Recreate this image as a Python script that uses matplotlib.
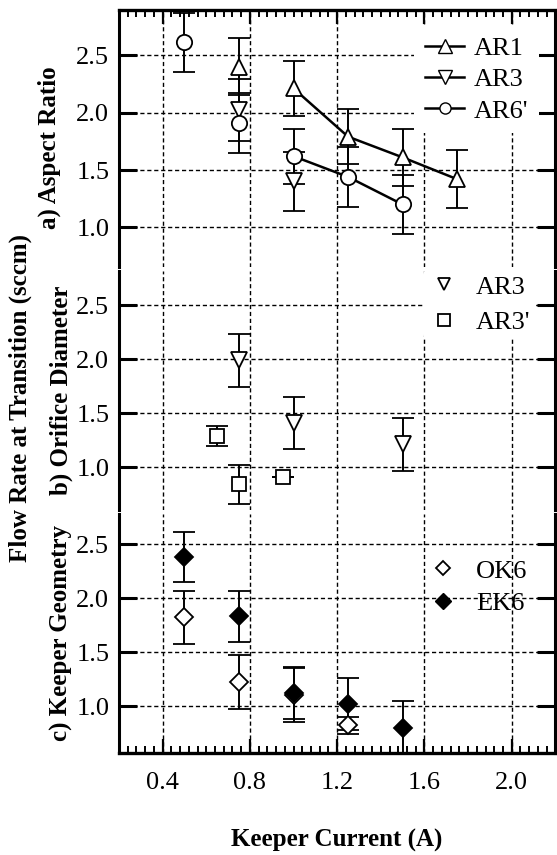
import numpy as np
import matplotlib
matplotlib.use("Agg")
import matplotlib.pyplot as plt
from matplotlib.ticker import MultipleLocator

plt.rcParams["font.family"] = ["Liberation Serif", "DejaVu Serif"]

# a) Aspect ratio
ar1_x = [1.0, 1.25, 1.5, 1.75]
ar1_y = [2.21, 1.79, 1.61, 1.42]
ar1_e = [0.24, 0.24, 0.25, 0.25]
ar1_lone_x = [0.75]
ar1_lone_y = [2.40]
ar1_lone_e = [0.25]

ar3a_x = [0.75, 1.0]
ar3a_y = [2.02, 1.40]
ar3a_e = [0.27, 0.26]

ar6_x = [1.0, 1.25, 1.5]
ar6_y = [1.62, 1.44, 1.20]
ar6_e = [0.24, 0.26, 0.26]
ar6_lone_x = [0.5, 0.75]
ar6_lone_y = [2.61, 1.91]
ar6_lone_e = [0.26, 0.26]

# b) Orifice diameter
ar3b_x = [0.75, 1.0, 1.5]
ar3b_y = [1.99, 1.41, 1.21]
ar3b_e = [0.25, 0.24, 0.25]

ar3p_x = [0.65, 0.75, 0.95]
ar3p_y = [1.29, 0.84, 0.91]
ar3p_e = [0.09, 0.18, 0.0]

# c) Keeper geometry
ok6_x = [0.5, 0.75, 1.0, 1.25]
ok6_y = [1.82, 1.22, 1.10, 0.82]
ok6_e = [0.25, 0.25, 0.25, 0.08]

ek6_x = [0.5, 0.75, 1.0, 1.25, 1.5]
ek6_y = [2.38, 1.83, 1.12, 1.02, 0.80]
ek6_e = [0.23, 0.24, 0.24, 0.24, 0.25]

yticks = [1.0, 1.5, 2.0, 2.5]
xticks = [0.4, 0.8, 1.2, 1.6, 2.0]

fig = plt.figure(figsize=(5.57, 8.55), dpi=100)
gs = fig.add_gridspec(3, 1, height_ratios=[258, 240, 240], hspace=0.015,
                      left=0.2136, right=0.997, top=0.988, bottom=0.1193)
axes = [fig.add_subplot(gs[i]) for i in range(3)]
ylims = [(0.653, 2.89), (0.60, 2.82), (0.565, 2.78)]

eb = dict(color="black", ecolor="black", elinewidth=1.4, capsize=8, capthick=1.4,
          mfc="white", mec="black", mew=1.3, clip_on=True)

for i, ax in enumerate(axes):
    ax.set_xlim(0.2, 2.2)
    ax.set_ylim(*ylims[i])
    ax.set_yticks(yticks)
    ax.set_yticklabels(["%.1f" % v for v in yticks])
    ax.xaxis.set_major_locator(MultipleLocator(0.4))
    ax.xaxis.set_minor_locator(MultipleLocator(0.04))
    ax.set_xticks(xticks)
    ax.grid(True, which="major", color="black", linestyle=(0, (3, 2)), linewidth=1.0)
    ax.set_axisbelow(True)
    ax.tick_params(axis="y", which="major", direction="in", left=True, right=True,
                   length=13, width=2.2, labelsize=19, pad=7)
    ax.tick_params(axis="x", which="both", direction="in", top=(i == 0), bottom=(i == 2),
                   labelbottom=(i == 2), labelsize=19, pad=14)
    ax.tick_params(axis="x", which="major", length=10, width=1.6)
    ax.tick_params(axis="x", which="minor", length=5, width=1.4)
    for s in ["left", "right"]:
        ax.spines[s].set_linewidth(2.2)
    ax.spines["top"].set_visible(i == 0)
    ax.spines["bottom"].set_visible(i == 2)
    ax.spines["top"].set_linewidth(2.4)
    ax.spines["bottom"].set_linewidth(2.4)

# panel a
ax = axes[0]
ax.errorbar(ar1_x, ar1_y, yerr=ar1_e, marker="^", ms=11, lw=1.8, label="AR1", **eb)
ax.errorbar(ar1_lone_x, ar1_lone_y, yerr=ar1_lone_e, marker="^", ms=11, ls="none", **eb)
ax.errorbar(ar3a_x, ar3a_y, yerr=ar3a_e, marker="v", ms=11, ls="none", **eb)
ax.errorbar(ar6_x, ar6_y, yerr=ar6_e, marker="o", ms=11, lw=1.8, **eb)
ax.errorbar(ar6_lone_x, ar6_lone_y, yerr=ar6_lone_e, marker="o", ms=11, ls="none", **eb)
h1 = plt.Line2D([], [], color="black", lw=1.8, marker="^", ms=10, mfc="white", mec="black")
h3 = plt.Line2D([], [], color="black", lw=1.8, marker="v", ms=10, mfc="white", mec="black")
h6 = plt.Line2D([], [], color="black", lw=1.8, marker="o", ms=8, mfc="white", mec="black")
leg = ax.legend([h1, h3, h6], ["AR1", "AR3", "AR6'"], loc="upper right", fontsize=19,
                handlelength=1.5, handletextpad=0.35, labelspacing=0.3,
                borderaxespad=0.1, bbox_to_anchor=(0.968, 0.95),
                frameon=True, framealpha=1, edgecolor="none")
ax.set_ylabel("a) Aspect Ratio", fontsize=18, fontweight="bold", labelpad=2)
ax.yaxis.set_label_coords(-0.133, 0.465)

# panel b
ax = axes[1]
ax.errorbar(ar3b_x, ar3b_y, yerr=ar3b_e, marker="v", ms=11, ls="none", **eb)
ax.errorbar(ar3p_x, ar3p_y, yerr=ar3p_e, marker="s", ms=10, ls="none", **eb)
hb1 = plt.Line2D([], [], ls="none", marker="v", ms=9, mfc="white", mec="black", mew=1.3)
hb2 = plt.Line2D([], [], ls="none", marker="s", ms=9, mfc="white", mec="black", mew=1.3)
ax.legend([hb1, hb2], ["AR3", "AR3'"], loc="upper right", fontsize=19,
          handlelength=1.2, handletextpad=0.6, labelspacing=0.45, borderpad=0.2,
          bbox_to_anchor=(0.985, 1.06), frameon=True, framealpha=1, edgecolor="none")
ax.set_ylabel("b) Orifice Diameter", fontsize=18, fontweight="bold", labelpad=2)

# panel c
ax = axes[2]
ax.errorbar(ok6_x, ok6_y, yerr=ok6_e, marker="D", ms=9, ls="none", **eb)
ek = dict(eb)
ek["mfc"] = "black"
ax.errorbar(ek6_x, ek6_y, yerr=ek6_e, marker="D", ms=9, ls="none", **ek)
hc1 = plt.Line2D([], [], ls="none", marker="D", ms=7, mfc="white", mec="black", mew=1.3)
hc2 = plt.Line2D([], [], ls="none", marker="D", ms=8, mfc="black", mec="black")
ax.legend([hc1, hc2], ["OK6", "EK6"], loc="upper right", fontsize=19,
          handlelength=1.2, handletextpad=0.65, labelspacing=0.35,
          bbox_to_anchor=(0.99, 0.91), frameon=False)
ax.set_ylabel("c) Keeper Geometry", fontsize=18, fontweight="bold", labelpad=2)
ax.set_xlabel("Keeper Current (A)", fontsize=18, fontweight="bold", labelpad=25)

fig.text(0.036, 0.535, "Flow Rate at Transition (sccm)", rotation=90, fontsize=18,
         fontweight="bold", ha="center", va="center")

fig.savefig("out.png", dpi=100)
